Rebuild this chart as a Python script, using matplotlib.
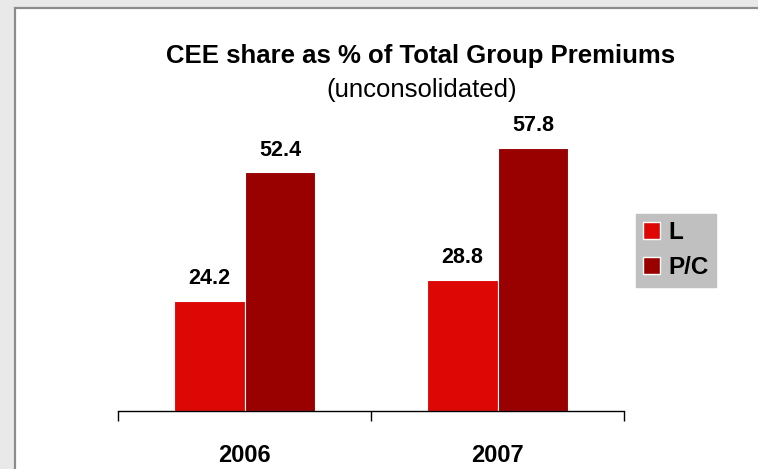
import matplotlib.pyplot as plt
from matplotlib.patches import Rectangle

plt.rcParams['font.family'] = ['Liberation Sans', 'DejaVu Sans']

years = ['2006', '2007']
share_l = [24.2, 28.8]
share_pc = [52.4, 57.8]
series_names = ['L', 'P/C']

W, H = 758, 469
fig = plt.figure(figsize=(W / 100, H / 100), dpi=100, facecolor='#e9e9e9')

# white panel with grey frame on left/top
fig.patches.append(Rectangle((15 / W, -0.1), 1.2, 1 - 8 / H + 0.1, transform=fig.transFigure,
                             facecolor='white', edgecolor='#8c8c8c', linewidth=1.6, zorder=-1))

ax = fig.add_axes([118 / W, 58 / H, (624 - 118) / W, (411 - 40) / H])
ax.set_zorder(2)
ax.patch.set_visible(False)

x = list(range(len(years)))
w = 0.28
b1 = ax.bar([i - w / 2 for i in x], share_l, width=w, color='#dd0806', edgecolor='white',
            linewidth=0.8, label=series_names[0])
b2 = ax.bar([i + w / 2 for i in x], share_pc, width=w, color='#990000', edgecolor='white',
            linewidth=0.8, label=series_names[1])

for bars, vals in [(b1, share_l), (b2, share_pc)]:
    for rect, v in zip(bars, vals):
        ax.annotate(f'{v:.1f}', (rect.get_x() + rect.get_width() / 2, v), xytext=(0, 12),
                    textcoords='offset points', ha='center', va='baseline',
                    fontsize=15.5, fontweight='bold')

ax.set_xlim(-0.5, 1.5)
ax.set_ylim(0, 81.5)
for s in ['top', 'right', 'left']:
    ax.spines[s].set_visible(False)
ax.spines['bottom'].set_linewidth(1.0)
ax.set_yticks([])
ax.set_xticks(x)
ax.set_xticklabels(years, fontsize=17, fontweight='bold')
ax.set_xticks([-0.5, 0.5, 1.5], minor=True)
ax.tick_params(axis='x', which='major', length=0, pad=24)
ax.tick_params(axis='x', which='minor', length=7, width=1.0, direction='out')

fig.text(421 / W, 1 - 63 / H, 'CEE share as % of Total Group Premiums', ha='center',
         va='baseline', fontsize=18.5, fontweight='bold')
fig.text(422 / W, 1 - 97 / H, '(unconsolidated)', ha='center', va='baseline', fontsize=18.5)

leg = fig.legend(loc='upper left', bbox_to_anchor=(636 / W, 1 - 214 / H), frameon=True,
                 fancybox=False, facecolor='#c0c0c0', edgecolor='#c0c0c0', framealpha=1,
                 handlelength=0.7, handleheight=0.7, handletextpad=0.35, labelspacing=0.5,
                 borderpad=0.3, borderaxespad=0, prop={'size': 17.5, 'weight': 'bold'})
for h in leg.legend_handles:
    h.set_edgecolor('white')
    h.set_linewidth(1.0)

fig.savefig('out.png', dpi=100, facecolor=fig.get_facecolor())
